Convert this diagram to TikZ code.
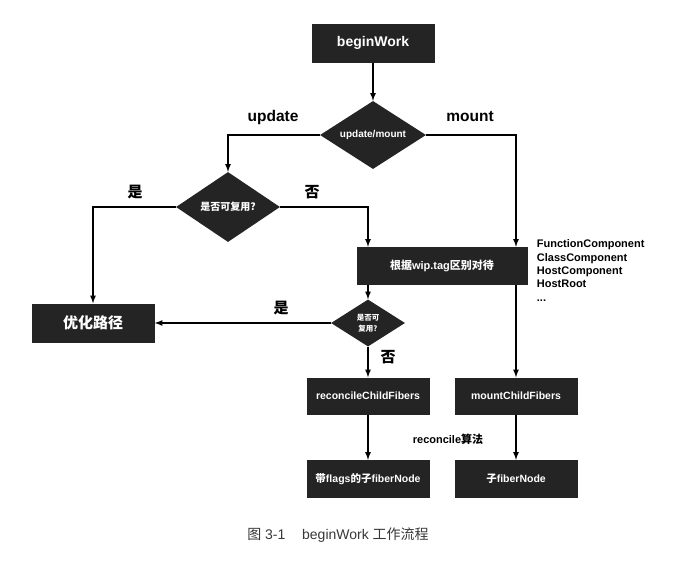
\documentclass[tikz,border=0pt]{standalone}
\usepackage{fontspec}
\setmainfont{Liberation Sans}
\newfontfamily\cjk{Noto Sans CJK SC}
\usepackage{tikz}
\usetikzlibrary{shapes,arrows,positioning}
\definecolor{boxgray}{RGB}{36, 36, 36}
\definecolor{capgray}{RGB}{55, 55, 55}
\tikzstyle{blk} = [rectangle, fill=boxgray, text=white, text centered, font=\bfseries\fontsize{10.5}{12}\selectfont, minimum width=123pt, minimum height=38pt, inner sep=0pt]
\tikzstyle{dec} = [diamond, aspect=1.5, fill=boxgray, text=white, text centered, font=\bfseries\fontsize{10}{12}\selectfont, inner sep=0pt]
\tikzstyle{lbl} = [draw=none, fill=none, text centered, font=\bfseries\fontsize{15.5}{18}\selectfont]
\tikzstyle{small} = [draw=none, fill=none, font=\bfseries\fontsize{11}{13.3}\selectfont, inner sep=0pt]
\tikzstyle{tedge}  = [draw, line width=1.6pt, >=latex, ->]

\begin{document}
\begin{tikzpicture}[x=1pt, y=1pt, on grid, auto]
\useasboundingbox (0,0) rectangle (682,-563);

% main column =============================

\node[blk, font=\bfseries\fontsize{14}{16}\selectfont, minimum height=39pt] (beginwork) at (373,-43) {beginWork};
\node[dec, minimum width=106pt, minimum height=68pt, below=92pt of beginwork] (updmount) {update/mount};

% update branch
\node[dec, minimum width=104pt, minimum height=70pt, below left=72pt and 145pt of updmount] (reuse1) {\cjk 是否可复用?};
\node[blk, font=\bfseries\cjk\fontsize{15}{17}\selectfont, minimum height=39pt, below left=116pt and 135pt of reuse1] (optpath) {优化路径};

% tag
\node[blk, font=\bfseries\fontsize{11}{13}\selectfont, minimum width=171pt, below right=131pt and 69pt of updmount] (bytag) {{\cjk 根据}wip.tag{\cjk 区别对待}};
\node[dec, font=\bfseries\cjk\fontsize{7.5}{11}\selectfont, align=center, minimum width=74pt, minimum height=47pt, below left=57pt and 74pt of bytag] (reuse2) {是否可\\复用?};

% children
\node[blk, minimum height=37pt, below=73pt of reuse2] (reconcile) {reconcileChildFibers};
\node[blk, minimum height=37pt, right=148pt of reconcile] (mountcf) {mountChildFibers};
\node[blk, below=83pt of reconcile] (flagnode) {{\cjk 带}flags{\cjk 的子}fiberNode};
\node[blk, below=83pt of mountcf] (childnode) {{\cjk 子}fiberNode};

% labels
\node[lbl, above left=18pt and 100pt of updmount] (lupd) {update};
\node[lbl, above right=18pt and 97pt of updmount] (lmnt) {mount};
\node[lbl, font=\bfseries\cjk\fontsize{15}{17}\selectfont, above left=15pt and 93pt of reuse1] (lyes1) {是};
\node[lbl, font=\bfseries\cjk\fontsize{15}{17}\selectfont, above right=15pt and 84pt of reuse1] (lno1) {否};
\node[lbl, font=\bfseries\cjk\fontsize{15}{17}\selectfont, above left=15pt and 87pt of reuse2] (lyes2) {是};
\node[lbl, font=\bfseries\cjk\fontsize{15}{17}\selectfont, below right=34pt and 20pt of reuse2] (lno2) {否};
\node[small, below right=43pt and 80pt of reconcile] (lalgo) {reconcile{\cjk 算法}};
\node[small, align=left, anchor=north west] (tags) at ([xshift=9pt, yshift=7pt]bytag.north east) {FunctionComponent\\ClassComponent\\HostComponent\\HostRoot\\...};

% caption
\node[draw=none, text=capgray, font=\fontsize{14}{16}\selectfont] (cap) at (338,-535) {{\cjk 图}~3-1\hspace{1.2em}beginWork {\cjk 工作流程}};

%edges
\path[tedge] (beginwork) -- (updmount);
\path[tedge] (updmount.west) -| (reuse1.north);
\path[tedge] (updmount.east) -| (bytag.north -| mountcf);
\path[tedge] (reuse1.west) -| (optpath.north);
\path[tedge] (reuse1.east) -| (bytag.north -| reuse2);
\path[tedge] (bytag.south -| reuse2) -- (reuse2);
\path[tedge] (bytag.south -| mountcf) -- (mountcf);
\path[tedge] (reuse2.west) -- (optpath.east);
\path[tedge] (reuse2) -- (reconcile);
\path[tedge] (reconcile) -- (flagnode);
\path[tedge] (mountcf) -- (childnode);

\end{tikzpicture}
\end{document}
